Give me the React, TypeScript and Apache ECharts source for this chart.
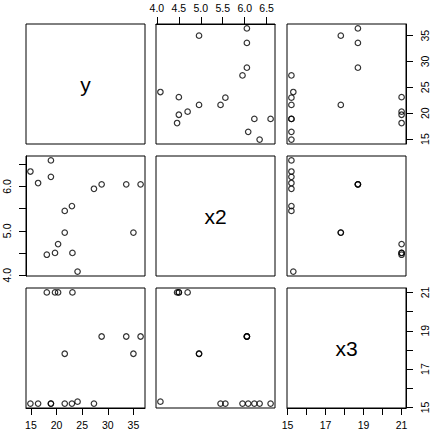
import React, { useEffect, useRef } from "react";
import * as echarts from "echarts";

const varNames = ["y", "x2", "x3"];
const yVals = [24.1, 23.1, 18.1, 19.7, 20.3, 35.0, 21.6, 21.6, 23.0, 27.3, 36.4, 33.6, 28.8, 16.4, 18.9, 14.9, 18.9];
const x2Vals = [4.08, 4.5, 4.46, 4.5, 4.7, 4.96, 4.96, 5.45, 5.56, 5.95, 6.05, 6.05, 6.05, 6.08, 6.22, 6.34, 6.59];
const x3Vals = [15.3, 21, 21, 21, 21, 17.8, 17.8, 15.2, 15.2, 15.2, 18.7, 18.7, 18.7, 15.2, 15.2, 15.2, 15.2];

const yTicks = [15, 20, 25, 30, 35];
const x2Ticks = [4.0, 4.5, 5.0, 5.5, 6.0, 6.5];
const x3Ticks = [15, 16, 17, 18, 19, 20, 21];

const yLabelsH = [15, 20, 25, 30, 35];
const yLabelsV = [15, 20, 25, 30, 35];
const x2LabelsH = [4.0, 4.5, 5.0, 5.5, 6.0, 6.5];
const x2LabelsV = [4.0, 5.0, 6.0];
const x3LabelsH = [15, 17, 19, 21];
const x3LabelsV = [15, 17, 19, 21];

const FONT = "'Liberation Sans', Arial, Helvetica, sans-serif";
const colLeft = [26, 156, 287];
const rowTop = [24, 156, 288];
const PW = 119;
const PH = 120;

function lim(a: number[]) {
  const mn = Math.min(...a);
  const mx = Math.max(...a);
  const r = mx - mn;
  return [mn - 0.04 * r, mx + 0.04 * r];
}

export default function App() {
  const ref = useRef<HTMLDivElement>(null);
  useEffect(() => {
    if (!ref.current) return;
    const chart = echarts.init(ref.current, null, { renderer: "svg" });
    const vals = [yVals, x2Vals, x3Vals];
    const ticks = [yTicks, x2Ticks, x3Ticks];
    const labH = [yLabelsH, x2LabelsH, x3LabelsH];
    const labV = [yLabelsV, x2LabelsV, x3LabelsV];
    const fmt = [
      (v: number) => String(v),
      (v: number) => v.toFixed(1),
      (v: number) => String(v),
    ];
    const lims = vals.map(lim);

    const grids: any[] = [];
    const xAxes: any[] = [];
    const yAxes: any[] = [];
    const series: any[] = [];
    const graphics: any[] = [];

    for (let i = 0; i < 3; i++) {
      for (let j = 0; j < 3; j++) {
        const k = i * 3 + j;
        grids.push({
          left: colLeft[j],
          top: rowTop[i],
          width: PW,
          height: PH,
          show: true,
          borderColor: "#000",
          borderWidth: 1,
          backgroundColor: "transparent",
        });
        const showBottom = i === 2 && (j === 0 || j === 2);
        const showTop = i === 0 && j === 1;
        const showRight = j === 2 && (i === 0 || i === 2);
        const showLeft = j === 0 && i === 1;
        const tick = (vs: number[]) => ({
          show: true,
          inside: false,
          length: 7,
          lineStyle: { color: "#000", width: 1 },
          customValues: vs,
        });
        xAxes.push({
          type: "value",
          gridIndex: k,
          show: showBottom || showTop,
          splitLine: { show: false },
          axisLine: { show: true, lineStyle: { color: "#000", width: 1 } },
          position: showTop ? "top" : "bottom",
          min: lims[j][0],
          max: lims[j][1],
          axisTick: tick(ticks[j]),
          axisLabel: {
            customValues: labH[j],
            formatter: fmt[j],
            margin: 11,
            fontSize: 10.5,
            color: "#000",
            fontFamily: FONT,
          },
        });
        yAxes.push({
          type: "value",
          gridIndex: k,
          show: showLeft || showRight,
          splitLine: { show: false },
          axisLine: { show: true, lineStyle: { color: "#000", width: 1 } },
          position: showRight ? "right" : "left",
          min: lims[i][0],
          max: lims[i][1],
          axisTick: tick(ticks[i]),
          axisLabel: {
            customValues: labV[i],
            formatter: fmt[i],
            rotate: 90,
            margin: showLeft ? 14 : 13,
            fontSize: 10.5,
            color: "#000",
            fontFamily: FONT,
          },
        });
        if (i !== j) {
          series.push({
            type: "scatter",
            xAxisIndex: k,
            yAxisIndex: k,
            symbol: "circle",
            symbolSize: 5.5,
            itemStyle: { color: "rgba(0,0,0,0)", borderColor: "#000", borderWidth: 1.2 },
            data: vals[j].map((v, n) => [v, vals[i][n]]),
          });
        } else {
          graphics.push({
            type: "text",
            x: colLeft[j] + PW / 2,
            y: rowTop[i] + PH / 2,
            style: {
              text: varNames[i],
              fontSize: 21,
              fontFamily: FONT,
              fill: "#000",
              textAlign: "center",
              textVerticalAlign: "middle",
            },
          });
        }
      }
    }

    chart.setOption({
      animation: false,
      backgroundColor: "#fff",
      grid: grids,
      xAxis: xAxes,
      yAxis: yAxes,
      series,
      graphic: graphics,
    });
    return () => chart.dispose();
  }, []);
  return (
    <div
      ref={ref}
      style={{ position: "fixed", left: 0, top: 0, width: 433, height: 434, background: "#fff" }}
    />
  );
}
